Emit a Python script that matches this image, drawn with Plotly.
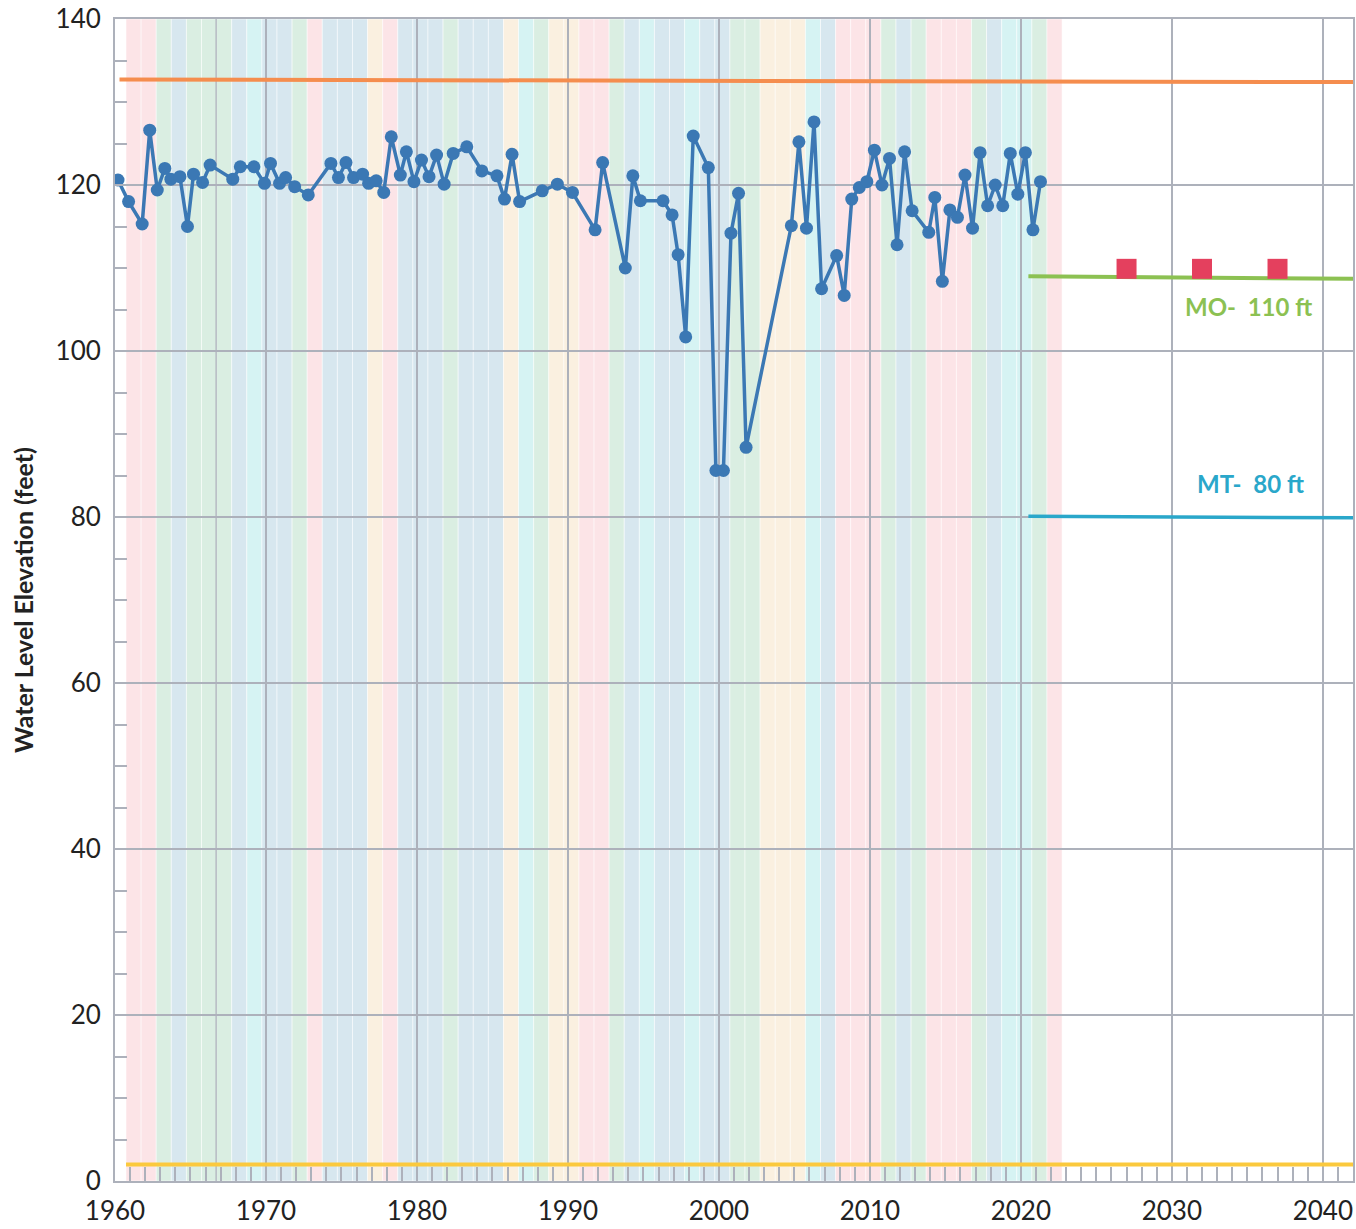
import plotly.graph_objects as go

# ---- data ----
years = [1960.2, 1960.9, 1961.8, 1962.3, 1962.8, 1963.3, 1963.7, 1964.3, 1964.8, 1965.2,
         1965.8, 1966.3, 1967.8, 1968.3, 1969.2, 1969.9, 1970.3, 1970.9, 1971.3, 1971.9,
         1972.8, 1974.3, 1974.8, 1975.3, 1975.8, 1976.4, 1976.8, 1977.3, 1977.8, 1978.3,
         1978.9, 1979.3, 1979.8, 1980.3, 1980.8, 1981.3, 1981.8, 1982.4, 1983.3, 1984.3,
         1985.3, 1985.8, 1986.3, 1986.8, 1988.3, 1989.3, 1990.3, 1991.8, 1992.3, 1993.8,
         1994.3, 1994.8, 1996.3, 1996.9, 1997.3, 1997.8, 1998.3, 1999.3, 1999.8, 2000.3,
         2000.8, 2001.3, 2001.8, 2004.8, 2005.3, 2005.8, 2006.3, 2006.8, 2007.8, 2008.3,
         2008.8, 2009.3, 2009.8, 2010.3, 2010.8, 2011.3, 2011.8, 2012.3, 2012.8, 2013.9,
         2014.3, 2014.8, 2015.3, 2015.8, 2016.3, 2016.8, 2017.3, 2017.8, 2018.3, 2018.8,
         2019.3, 2019.8, 2020.3, 2020.8, 2021.3]
water_level = [120.6, 118.0, 115.3, 126.6, 119.4, 122.0, 120.7, 121.0, 115.0, 121.3,
               120.3, 122.4, 120.7, 122.2, 122.2, 120.2, 122.6, 120.2, 120.9, 119.8,
               118.8, 122.6, 120.9, 122.7, 120.9, 121.3, 120.2, 120.5, 119.1, 125.8,
               121.2, 124.0, 120.4, 123.0, 121.0, 123.6, 120.1, 123.8, 124.6, 121.7,
               121.1, 118.3, 123.7, 118.0, 119.3, 120.1, 119.1, 114.6, 122.7, 110.0,
               121.1, 118.1, 118.1, 116.4, 111.6, 101.7, 125.9, 122.1, 85.6, 85.6,
               114.2, 119.0, 88.4, 115.1, 125.2, 114.8, 127.6, 107.5, 111.5, 106.7,
               118.3, 119.7, 120.4, 124.2, 120.0, 123.2, 112.8, 124.0, 116.9, 114.3,
               118.5, 108.4, 117.0, 116.1, 121.2, 114.8, 123.9, 117.5, 120.0, 117.5,
               123.8, 118.9, 123.9, 114.6, 120.4]

# water-year classification bands (WY 1961 .. 2022)
water_years = list(range(1961, 2023))
wy_type = ["P", "P", "G", "B", "G", "G", "G", "B", "C", "B",
           "B", "G", "P", "B", "B", "B", "Y", "P", "B", "B",
           "B", "G", "B", "B", "B", "Y", "C", "G", "Y", "Y",
           "P", "P", "G", "B", "C", "B", "B", "C", "B", "B",
           "G", "G", "Y", "Y", "Y", "C", "B", "P", "P", "P",
           "G", "B", "G", "P", "P", "P", "G", "B", "C", "C",
           "G", "P"]
type_colors = {"P": "#FCE4E7", "G": "#DAEEE2", "B": "#D7E7EF", "C": "#D6F3F3", "Y": "#FAF0E0"}

# reference lines
top_line_x = [1960.3, 2042.0]
top_line_y = [132.7, 132.4]
bottom_line_x = [1960.73, 2042.0]
bottom_line_y = [2.0, 2.0]
mo_x = [2020.5, 2042.0]
mo_y = [109.0, 108.7]
mt_x = [2020.5, 2042.0]
mt_y = [80.1, 79.9]
interim_x = [2027, 2032, 2037]
interim_y = [109.9, 109.9, 109.9]

x_ticks = list(range(1960, 2041, 10))
y_ticks = list(range(0, 141, 20))

fig = go.Figure()

shapes = []
for wy, t in zip(water_years, wy_type):
    shapes.append(dict(type="rect", xref="x", yref="y", x0=wy - 1 + 0.73, x1=wy + 0.73,
                       y0=0, y1=140, fillcolor=type_colors[t],
                       line=dict(color="rgba(255,255,255,0.5)", width=1), layer="below"))
shapes.append(dict(type="line", xref="x", yref="y", x0=1966.7, x1=1966.7, y0=0, y1=140,
                   line=dict(color="#B5B9C2", width=1.5), layer="below"))

fig.add_trace(go.Scatter(x=top_line_x, y=top_line_y, mode="lines",
                         line=dict(color="#F58D4E", width=4), showlegend=False, hoverinfo="skip"))
fig.add_trace(go.Scatter(x=bottom_line_x, y=bottom_line_y, mode="lines",
                         line=dict(color="#FBC93D", width=4), showlegend=False, hoverinfo="skip"))
fig.add_trace(go.Scatter(x=mo_x, y=mo_y, mode="lines",
                         line=dict(color="#8CC152", width=4), showlegend=False, hoverinfo="skip"))
fig.add_trace(go.Scatter(x=mt_x, y=mt_y, mode="lines",
                         line=dict(color="#2AA7CA", width=3.5), showlegend=False, hoverinfo="skip"))
fig.add_trace(go.Scatter(x=interim_x, y=interim_y, mode="markers",
                         marker=dict(symbol="square", size=20, color="#E4405E", line=dict(width=0)),
                         showlegend=False))
fig.add_trace(go.Scatter(x=years, y=water_level, mode="lines+markers",
                         line=dict(color="#3B78B4", width=3.5),
                         marker=dict(size=13, color="#3B78B4"), showlegend=False))

fig.add_annotation(x=2035.1, y=105.4, text="<b>MO-  110 ft</b>", showarrow=False,
                   font=dict(family="Lato", size=24, color="#8CC152"))
fig.add_annotation(x=2035.2, y=84.0, text="<b>MT-  80 ft</b>", showarrow=False,
                   font=dict(family="Lato", size=24, color="#2AA7CA"))

grid_col = "#ADB1BB"
fig.update_layout(
    width=1356, height=1229,
    margin=dict(l=115, r=3, t=19, b=48),
    paper_bgcolor="white", plot_bgcolor="rgba(0,0,0,0)",
    shapes=shapes,
    font=dict(family="Lato", color="#222222"),
    xaxis=dict(range=[1960, 2042], tickvals=x_ticks, ticktext=[str(v) for v in x_ticks],
               automargin=False, ticklabeloverflow="allow",
               showgrid=True, gridcolor=grid_col, gridwidth=1.5,
               showline=True, linecolor=grid_col, linewidth=2, mirror=True,
               ticks="inside", ticklen=14, tickcolor=grid_col, tickwidth=1.5,
               minor=dict(dtick=1, tick0=1960, ticks="inside", ticklen=14, tickcolor=grid_col,
                          tickwidth=1.5, showgrid=False),
               ticklabelstandoff=6,
               tickfont=dict(size=26, color="#222222"), zeroline=False),
    yaxis=dict(range=[0, 140], tickvals=y_ticks, automargin=False, ticklabeloverflow="allow",
               showgrid=True, gridcolor=grid_col, gridwidth=1.5,
               showline=True, linecolor=grid_col, linewidth=2, mirror=True,
               ticks="inside", ticklen=12, tickcolor=grid_col, tickwidth=1.5,
               minor=dict(dtick=5, tick0=0, ticks="inside", ticklen=12, tickcolor=grid_col,
                          tickwidth=1.5, showgrid=False),
               ticklabelstandoff=7,
               tickfont=dict(size=26, color="#222222"), zeroline=False,
               title=dict(text="<b>Water Level Elevation (feet)</b>",
                          font=dict(size=25, color="#222222"), standoff=15)),
)

fig.write_html("out.html", config={"displayModeBar": False},
               post_script="document.body.style.margin='0';document.body.style.overflow='hidden';")
